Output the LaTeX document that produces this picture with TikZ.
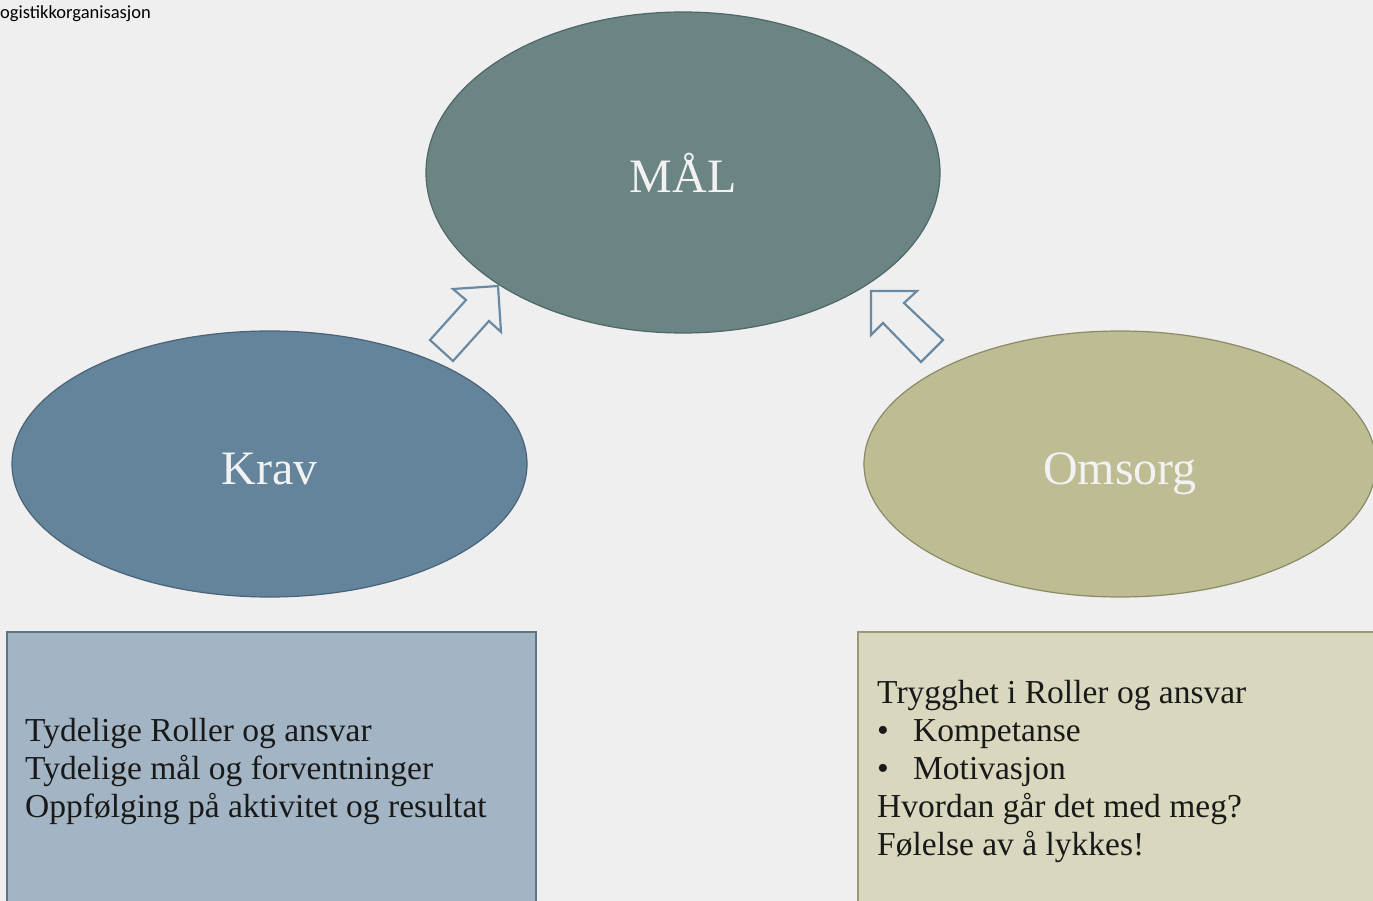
\documentclass[tikz,border=0pt]{standalone}
\usepackage{fontspec}
\setmainfont{Liberation Serif}
\newfontfamily\smallsans{Carlito}
\usetikzlibrary{shapes.geometric}
\definecolor{bg}{HTML}{EFEFEF}
\definecolor{malfill}{HTML}{6A8583}
\definecolor{maldraw}{HTML}{4F6766}
\definecolor{kravfill}{HTML}{64849B}
\definecolor{kravdraw}{HTML}{4A6378}
\definecolor{omsfill}{HTML}{BEBC93}
\definecolor{omsdraw}{HTML}{8C8A66}
\definecolor{lboxfill}{HTML}{A3B5C4}
\definecolor{lboxdraw}{HTML}{5E7386}
\definecolor{rboxfill}{HTML}{D9D8BF}
\definecolor{rboxdraw}{HTML}{999875}
\definecolor{arrowdraw}{HTML}{6A8AA3}
\definecolor{ltext}{HTML}{F2F2F2}
\tikzset{
  bigell/.style={ellipse, inner sep=0pt, line width=1.2pt, text=ltext,
    text height=40pt, text depth=0pt,
    font=\fontsize{48}{56}\selectfont},
  boxtext/.style={anchor=base west, inner sep=0pt, text=black!90,
    font=\fontsize{33.5}{38}\selectfont},
  blockarrow/.style={draw=arrowdraw, line width=2.2pt, fill=bg, line join=miter},
}
\begin{document}
\begin{tikzpicture}[x=1pt,y=-1pt]
\useasboundingbox (0,0) rectangle (1373,901);
\clip (0,0) rectangle (1373,901);
\fill[bg] (0,0) rectangle (1373,901);

\node[anchor=base west, inner sep=0pt, font=\smallsans\fontsize{18.5}{22}\selectfont] (hdr) at (0,19) {ogistikkorganisasjon};

\node[bigell, fill=malfill, draw=maldraw, minimum width=514pt, minimum height=321pt] (mal) at (683,172.5) {MÅL};
\node[bigell, fill=kravfill, draw=kravdraw, minimum width=515pt, minimum height=266pt] (krav) at (269.5,464) {Krav};
\node[bigell, fill=omsfill, draw=omsdraw, minimum width=512pt, minimum height=266pt] (oms) at (1120,464) {Omsorg};

% block arrows
\draw[blockarrow] (498,286) -- (453,289) -- (466,300) -- (430,340) -- (453,361) -- (489,321) -- (501,332) -- cycle;
\draw[blockarrow] (871,291) -- (917,291) -- (904,303) -- (943,340) -- (921,362) -- (883,323) -- (871,335) -- cycle;

% boxes
\node[draw=lboxdraw, fill=lboxfill, line width=1.6pt, anchor=north west, minimum width=529pt, minimum height=300pt, inner sep=0pt] (lbox) at (6,631) {};
\node[draw=rboxdraw, fill=rboxfill, line width=1.6pt, anchor=north west, minimum width=530pt, minimum height=300pt, inner sep=0pt] (rbox) at (857,631) {};

\node[boxtext] (l1) at (25,741) {Tydelige Roller og ansvar};
\node[boxtext] (l2) at (25,779) {Tydelige mål og forventninger};
\node[boxtext] (l3) at (25,817) {Oppfølging på aktivitet og resultat};

\node[boxtext] (r1) at (877,703) {Trygghet i Roller og ansvar};
\node[boxtext] (r2b) at (877,741) {•};
\node[boxtext] (r2) at (913,741) {Kompetanse};
\node[boxtext] (r3b) at (877,779) {•};
\node[boxtext] (r3) at (913,779) {Motivasjon};
\node[boxtext] (r4) at (877,817) {Hvordan går det med meg?};
\node[boxtext] (r5) at (877,855) {Følelse av å lykkes!};
\end{tikzpicture}
\end{document}
